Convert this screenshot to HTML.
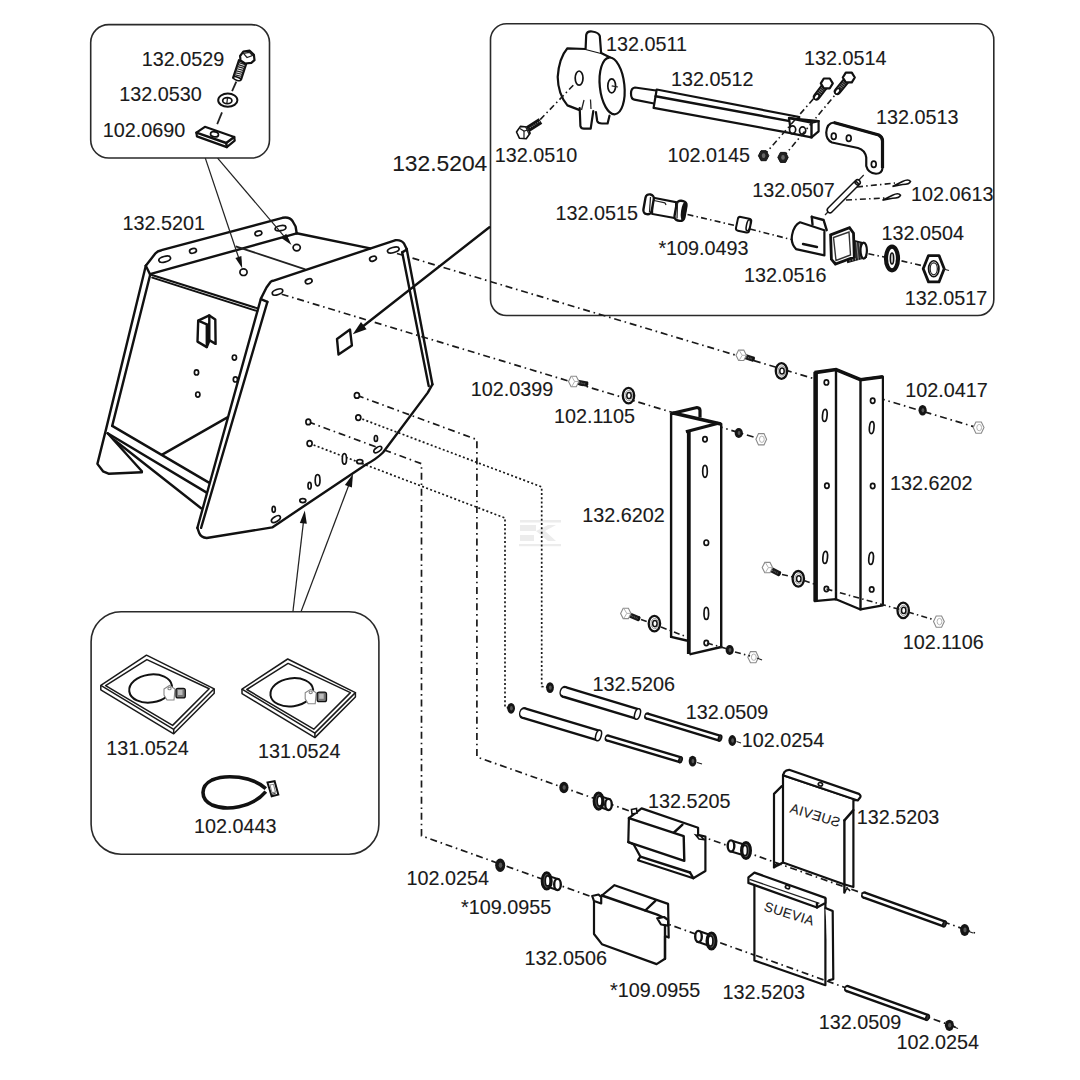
<!DOCTYPE html><html><head><meta charset="utf-8"><style>html,body{margin:0;padding:0;background:#fff;width:1080px;height:1080px;overflow:hidden}svg{display:block}</style></head><body><svg width="1080" height="1080" viewBox="0 0 1080 1080">
<style>
.k{fill:none;stroke:#111;stroke-width:2.4;stroke-linejoin:round;stroke-linecap:round}
.k2l{fill:none;stroke:#111;stroke-width:2.0;stroke-linecap:round}
.kw3{fill:#fff;stroke:#111;stroke-width:2.8;stroke-linejoin:round}
.wf{fill:#fff;stroke:none}
.kw{fill:#fff;stroke:#111;stroke-width:2.2;stroke-linejoin:round;stroke-linecap:round}
.k2{fill:#fff;stroke:#111;stroke-width:1.6}
.t{fill:none;stroke:#222;stroke-width:1.25}
.t2{fill:none;stroke:#222;stroke-width:1.8}
.dd2{fill:none;stroke:#1a1a1a;stroke-width:1.6;stroke-dasharray:6 3.2 1.5 3.2}
.lh{fill:#fff;stroke:#8a8a8a;stroke-width:1.1}
.tr{fill:none;stroke:#1a1a1a;stroke-width:1.5;stroke-linejoin:round}
.cn{fill:#fff;stroke:#888;stroke-width:1.1}
.cn2{fill:#fff;stroke:#111;stroke-width:2}
.tw{fill:none;stroke:#999;stroke-width:0.8}
.kw2{fill:#fff;stroke:#111;stroke-width:1.6;stroke-linejoin:round}
.bh2{fill:#fff;stroke:#222;stroke-width:1.4}
.bx{fill:none;stroke:#2a2a2a;stroke-width:1.6}
.h{fill:#fff;stroke:#111;stroke-width:1.7}
.fk{fill:#111;stroke:none}
.dd{fill:none;stroke:#1a1a1a;stroke-width:1.7;stroke-dasharray:7 3.8 1.6 3.8}
.ddl{fill:none;stroke:#1a1a1a;stroke-width:1.7;stroke-dasharray:7 3.8 1.6 3.8}
.dt{fill:none;stroke:#1a1a1a;stroke-width:1.7;stroke-dasharray:2 2.3}
.nutd{fill:#222;stroke:#111;stroke-width:1}
.nuti{fill:#666;stroke:none}
.nutl{fill:#fff;stroke:#999;stroke-width:1.1}
.bh{fill:#fff;stroke:#888;stroke-width:1.2}
.wsh{fill:#fff;stroke:#111}
.lbl{font-family:"Liberation Sans",sans-serif;fill:#1a1a1a;stroke:#1a1a1a;stroke-width:0.12}
</style>
<rect width="1080" height="1080" fill="#fff"/>
<rect class="bx" x="90.7" y="24.6" width="178.8" height="133.4" rx="18"/>
<rect class="bx" x="490.5" y="23.8" width="503.3" height="291.7" rx="16"/>
<rect class="bx" x="91.1" y="611.7" width="287.8" height="242.5" rx="30"/>
<g fill="#ececec"><rect x="520" y="520" width="41" height="2.5"/><rect x="520" y="525" width="16" height="6"/><rect x="520" y="535" width="14" height="6"/><rect x="519" y="544" width="42" height="2.2"/><path d="M536,531 L548,525 L556,525 L545,531 L556,541 L548,541 Z"/></g>
<line class="dd" x1="397" y1="253.5" x2="980" y2="428.5"/>
<line class="dd" x1="281.7" y1="294.2" x2="765" y2="440.5"/>
<polyline class="ddl" points="356.9,395.4 476.9,439.6 476.9,757.0 975.0,933.0"/>
<polyline class="dt" points="358.3,417.6 541.7,486.9 541.7,686.5 550.0,687.5"/>
<polyline class="ddl" points="308.3,421.9 421.5,463.7 421.5,835.8 958.0,1028.0"/>
<polyline class="dt" points="309.6,443.5 505.0,518.0 505.0,707.0 511.0,708.3"/>
<path class="k" d="M145.8,265.8 L155.3,253.5 Q157.5,251 161.5,250.2 L282.5,217.8 Q289.5,216.5 292.5,221 L295.6,226.5 L296.7,233.3"/>
<line class="k" x1="150" y1="274.2" x2="296.7" y2="233.3"/>
<line class="k" x1="145.8" y1="265.8" x2="150" y2="274.2"/>
<line class="k" x1="296.7" y1="233.3" x2="370.2" y2="248.4"/>
<line class="t2" x1="235.7" y1="246.3" x2="305.3" y2="269.3"/>
<path class="k" d="M197.4,527.8 L260.9,298.6 L266.5,287.5 L270.5,282 Q271.5,281 273,280.8 L395,240.3 Q401,239.5 404,243.5 L406.7,249"/>
<line class="k" x1="406.7" y1="249" x2="432.4" y2="384.3"/>
<line class="k" x1="402.2" y1="252.4" x2="428.7" y2="386.1"/>
<line class="k" x1="402.2" y1="252.4" x2="406.5" y2="249.8"/>
<path class="k" d="M432.4,384.3 L427.8,392.6 L383,452.5 Q376.5,459 366,464.5 L272.2,527.4 L206.7,538 Q201,537.5 199.3,533.3 L197.4,527.8"/>
<line class="k" x1="267.4" y1="301.9" x2="201.1" y2="527.8"/>
<polyline class="k" points="260.9,299.1 267.4,301.9"/>
<polyline class="k" points="145.8,265.8 105.7,430.6 97.4,463.9 103.0,471.3 108.5,473.7 141.9,472.2"/>
<line class="k" x1="150.2" y1="274.8" x2="112.2" y2="425.9"/>
<line class="k2l" x1="151.1" y1="274.8" x2="257.7" y2="308.4"/>
<line class="k2l" x1="152.3" y1="277.6" x2="257.3" y2="311.1"/>
<line class="k" x1="112.2" y1="425.9" x2="208.5" y2="482.4"/>
<line class="k" x1="107.6" y1="433.3" x2="206.7" y2="492.6"/>
<line class="k" x1="114" y1="439.8" x2="201.1" y2="508.3"/>
<line class="k" x1="107.6" y1="433.3" x2="141.9" y2="471.3"/>
<line class="k" x1="162.2" y1="454.6" x2="227" y2="417.6"/>
<polygon class="fk" points="206.8,324.4 209.3,321.5 209.3,340.2 206.8,344.0"/>
<path class="k" d="M198.2,320.7 L209.3,315.4 L215.3,319.4 L215.6,343.9 L209.5,340.2 L206.8,347.1 L197.5,341.6 Z"/>
<polyline class="k" points="198.2,320.7 206.8,324.4 206.8,347.1"/>
<line class="k" x1="209.3" y1="315.4" x2="209.3" y2="340.2"/>
<ellipse class="h" cx="164.7" cy="259.2" rx="6" ry="2.8" transform="rotate(-15 164.7 259.2)"/>
<ellipse class="h" cx="193" cy="250.8" rx="3.5" ry="2.3" transform="rotate(-15 193 250.8)"/>
<ellipse class="h" cx="258.4" cy="233.3" rx="3.5" ry="2.3" transform="rotate(-15 258.4 233.3)"/>
<ellipse class="h" cx="280.5" cy="228.2" rx="5.5" ry="2.5" transform="rotate(-10 280.5 228.2)"/>
<ellipse class="h" cx="243.5" cy="272.2" rx="3.6" ry="3.3"/>
<ellipse class="h" cx="296.7" cy="247.6" rx="3.6" ry="3.3"/>
<ellipse class="h" cx="277.5" cy="292" rx="5.5" ry="2.6" transform="rotate(-20 277.5 292)"/>
<ellipse class="h" cx="308.7" cy="281.3" rx="3.5" ry="2.3" transform="rotate(-20 308.7 281.3)"/>
<ellipse class="h" cx="373" cy="258.7" rx="3.5" ry="2.3" transform="rotate(-20 373 258.7)"/>
<ellipse class="h" cx="393.3" cy="250" rx="6" ry="2.6" transform="rotate(-15 393.3 250)"/>
<ellipse class="h" cx="234.4" cy="357.6" rx="2.1" ry="2.6"/>
<ellipse class="h" cx="196.5" cy="372.4" rx="2.1" ry="2.6"/>
<ellipse class="h" cx="235.4" cy="379.4" rx="2.1" ry="2.6"/>
<ellipse class="h" cx="197.8" cy="394.6" rx="2.1" ry="2.6"/>
<ellipse class="h" cx="356.9" cy="395.4" rx="2.5" ry="2.8"/>
<ellipse class="h" cx="358.3" cy="417.6" rx="2.5" ry="2.8"/>
<ellipse class="h" cx="309.6" cy="443.5" rx="2.5" ry="2.8"/>
<ellipse class="h" cx="308.3" cy="421.9" rx="2.4" ry="2.8"/>
<ellipse class="h" cx="375.9" cy="438.5" rx="1.6" ry="3"/>
<ellipse class="h" cx="377.8" cy="449.6" rx="4.5" ry="2.2" transform="rotate(-35 377.8 449.6)"/>
<ellipse class="h" cx="344.4" cy="458.9" rx="2.1" ry="5.2"/>
<ellipse class="h" cx="359.8" cy="461.7" rx="3" ry="2"/>
<ellipse class="h" cx="317.6" cy="480.2" rx="2.4" ry="5.6"/>
<ellipse class="h" cx="309.6" cy="485.7" rx="1.6" ry="3.3"/>
<ellipse class="h" cx="302.8" cy="500.6" rx="3" ry="2"/>
<ellipse class="h" cx="273.7" cy="509.3" rx="1.6" ry="3"/>
<ellipse class="h" cx="275.9" cy="519.1" rx="5" ry="2.5" transform="rotate(-32 275.9 519.1)"/>
<polygon class="k" points="337.0,338.9 350.0,329.6 351.9,345.4 338.5,354.6"/>
<line class="t" x1="205.3" y1="158.1" x2="238.70729982511662" y2="257.86922603598515"/>
<polygon class="fk" points="242.2,268.3 235.4,257.9 241.4,255.9"/>
<line class="t" x1="217.6" y1="158.1" x2="284.37390820663006" y2="236.62033319561777"/>
<polygon class="fk" points="291.5,245.0 281.3,237.9 286.2,233.8"/>
<line class="t" x1="292.9" y1="611.7" x2="303.39858831364404" y2="522.4178876184224"/>
<polygon class="fk" points="304.8,510.5 306.8,523.8 299.8,523.0"/>
<line class="t" x1="301" y1="611.7" x2="348.76062010018484" y2="485.2262040808567"/>
<polygon class="fk" points="353.0,474.0 351.9,487.5 344.9,484.9"/>
<line class="k" x1="489.4" y1="227.2" x2="363.03044917249076" y2="326.2789084452873"/>
<polygon class="fk" points="352.8,334.3 361.0,322.1 366.6,329.2"/>
<text class="lbl" x="141.7" y="66" font-size="19.8">132.0529</text>
<text class="lbl" x="119.3" y="101" font-size="19.8">132.0530</text>
<text class="lbl" x="102.8" y="137.4" font-size="19.8">102.0690</text>
<text class="lbl" x="122.4" y="230" font-size="19.8">132.5201</text>
<text class="lbl" x="606.0" y="51.25" font-size="19.8">132.0511</text>
<text class="lbl" x="671.1" y="85.9" font-size="19.8">132.0512</text>
<text class="lbl" x="494.7" y="162" font-size="19.8">132.0510</text>
<text class="lbl" x="667.4" y="161.9" font-size="19.8">102.0145</text>
<text class="lbl" x="804.0" y="65" font-size="19.8">132.0514</text>
<text class="lbl" x="876.0" y="123.75" font-size="19.8">132.0513</text>
<text class="lbl" x="752.2" y="197" font-size="19.8">132.0507</text>
<text class="lbl" x="911.0" y="200.75" font-size="19.8">102.0613</text>
<text class="lbl" x="555.5" y="220" font-size="19.8">132.0515</text>
<text class="lbl" x="658.4" y="255" font-size="19.8">*109.0493</text>
<text class="lbl" x="881.5" y="239.5" font-size="19.8">132.0504</text>
<text class="lbl" x="744.0" y="282" font-size="19.8">132.0516</text>
<text class="lbl" x="904.7" y="304.5" font-size="19.8">132.0517</text>
<text class="lbl" x="470.7" y="395.6" font-size="19.8">102.0399</text>
<text class="lbl" x="554.0" y="423.25" font-size="19.8">102.1105</text>
<text class="lbl" x="905.2" y="396.6" font-size="19.8">102.0417</text>
<text class="lbl" x="890.1" y="489.7" font-size="19.8">132.6202</text>
<text class="lbl" x="582.2" y="521.8" font-size="19.8">132.6202</text>
<text class="lbl" x="902.8" y="648.7" font-size="19.8">102.1106</text>
<text class="lbl" x="592.5" y="690.7" font-size="19.8">132.5206</text>
<text class="lbl" x="685.8" y="719" font-size="19.8">132.0509</text>
<text class="lbl" x="741.8" y="747.3" font-size="19.8">102.0254</text>
<text class="lbl" x="648.1" y="807.9" font-size="19.8">132.5205</text>
<text class="lbl" x="856.8" y="824.4" font-size="19.8">132.5203</text>
<text class="lbl" x="406.5" y="884.7" font-size="19.8">102.0254</text>
<text class="lbl" x="461.1" y="914" font-size="19.8">*109.0955</text>
<text class="lbl" x="524.5" y="965" font-size="19.8">132.0506</text>
<text class="lbl" x="610.0" y="997.4" font-size="19.8">*109.0955</text>
<text class="lbl" x="722.5" y="999.4" font-size="19.8">132.5203</text>
<text class="lbl" x="818.8" y="1029.4" font-size="19.8">132.0509</text>
<text class="lbl" x="896.5" y="1048.9" font-size="19.8">102.0254</text>
<text class="lbl" x="106.3" y="754.7" font-size="19.8">131.0524</text>
<text class="lbl" x="257.9" y="758.3" font-size="19.8">131.0524</text>
<text class="lbl" x="194.1" y="832.8" font-size="19.8">102.0443</text>
<text class="lbl" x="392.2" y="171.1" font-size="22.8">132.5204</text>
<polygon class="kw" points="239.0,60.2 246.5,62.9 241.1,79.4 233.1,77.8"/>
<line class="t" x1="238.3" y1="62.3" x2="245.9" y2="64.8"/>
<line class="t" x1="237.6" y1="64.3" x2="245.2" y2="66.8"/>
<line class="t" x1="236.9" y1="66.4" x2="244.6" y2="68.7"/>
<line class="t" x1="236.2" y1="68.5" x2="244.0" y2="70.7"/>
<line class="t" x1="235.5" y1="70.6" x2="243.3" y2="72.6"/>
<line class="t" x1="234.8" y1="72.6" x2="242.7" y2="74.5"/>
<line class="t" x1="234.1" y1="74.7" x2="242.1" y2="76.5"/>
<ellipse class="k2" cx="237.1" cy="78.7" rx="3.9" ry="1.6" transform="rotate(20 237.1 78.7)"/>
<polygon class="kw" points="240.1,56.0 243.3,51.7 249.7,50.7 253.9,54.9 254.5,60.2 251.3,62.9 245.0,63.5 240.5,60.5"/>
<polygon class="t" points="243.5,53.5 249.5,52.3 252.5,55.5 247.0,57.5"/>
<line class="t2" x1="236.3" y1="81.6" x2="232.1" y2="91.1"/>
<line class="t2" x1="222" y1="112.4" x2="217.2" y2="124.2"/>
<ellipse cx="227.8" cy="100.2" rx="9.6" ry="6.6" fill="#fff" stroke="#111" stroke-width="2"/>
<ellipse class="h" cx="227.3" cy="100.7" rx="4.6" ry="3"/>
<line class="t" x1="227.5" y1="97.8" x2="226.8" y2="103.5"/>
<polygon class="kw" points="196.4,132.7 204.9,126.8 234.2,137.0 234.7,140.7 226.8,147.1 196.9,136.4"/>
<polyline class="k" points="196.4,132.7 226.2,143.0 234.2,137.0"/>
<line class="k" x1="226.2" y1="143" x2="226.8" y2="147.1"/>
<ellipse class="h" cx="214.5" cy="134.3" rx="4" ry="2.5" transform="rotate(10 214.5 134.3)"/>
<path class="kw" d="M610.2,57.4 L601.1,52.9 L585.6,49 L567.4,48.3 Q559,58 557.7,76.9 Q558,94 567.4,105.4 L579.1,109.9"/>
<path class="kw" d="M585.6,49 L586.2,35 Q587,31 592,31.5 Q599,32.5 599.8,36 L601.1,52.9"/>
<path class="kw" d="M579.7,108 L580.4,126 Q581,128.7 584,128.7 L590.7,128.7 L593.3,111"/>
<path class="kw" d="M595.9,112 L597.2,121 Q598,123.5 602,123.5 L607.6,123.5 L609.5,115.7"/>
<line class="t" x1="584" y1="100" x2="581.5" y2="110"/>
<line class="t" x1="590.5" y1="99.5" x2="591" y2="109"/>
<ellipse class="kw" cx="612.1" cy="85.9" rx="12.3" ry="28.5" transform="rotate(-6 612.1 85.9)"/>
<ellipse class="h" cx="579.1" cy="78.1" rx="3.9" ry="7.1"/>
<ellipse class="h" cx="611.7" cy="85.9" rx="3.9" ry="7"/>
<line class="t" x1="611.7" y1="85.9" x2="618" y2="87"/>
<line class="dd2" x1="540.2" y1="119.6" x2="573.9" y2="84.6"/>
<line x1="528" y1="129" x2="540.5" y2="121" stroke="#111" stroke-width="6.5"/>
<line x1="528" y1="129" x2="540.5" y2="121" stroke="#888" stroke-width="1.3" stroke-dasharray="1 1.2"/>
<polygon class="kw2" points="530.1,133.2 526.2,138.8 519.4,138.2 516.5,132.0 520.4,126.4 527.2,127.0"/>
<polyline class="t" points="519.0,128.0 524.0,131.0 529.5,129.5"/>
<line class="t" x1="524" y1="131" x2="524" y2="138.5"/>
<line class="t" x1="525.5" y1="126.5" x2="529" y2="134"/>
<path class="kw" d="M656,90.5 L635,87.5 Q631,88 631,93.5 Q631,99 634.3,99.7 L654,103.5"/>
<polygon class="kw" points="656.7,89.5 799.3,117.0 792.1,133.3 653.6,107.9"/>
<line class="k" x1="655.6" y1="96.3" x2="795.2" y2="122.1"/>
<polygon class="kw" points="789.0,118.0 818.6,121.1 818.6,131.3 811.5,137.4 791.1,133.3"/>
<line class="k" x1="789" y1="118" x2="811.5" y2="122.5"/>
<line class="k" x1="811.5" y1="122.5" x2="811.5" y2="137.4"/>
<line class="k" x1="811.5" y1="122.5" x2="818.6" y2="121.1"/>
<ellipse class="h" cx="792.6" cy="129.6" rx="3.1" ry="3.7"/>
<ellipse class="h" cx="802.6" cy="130.6" rx="3.1" ry="3.7"/>
<line class="dd2" x1="763.6" y1="155.7" x2="815" y2="97"/>
<line class="dd2" x1="783" y1="157.4" x2="837.5" y2="92"/>
<line x1="826.8" y1="83.4" x2="816.6" y2="96.7" stroke="#111" stroke-width="7.5" stroke-linecap="round"/>
<line x1="826.8" y1="83.4" x2="816.6" y2="96.7" stroke="#777" stroke-width="4" stroke-dasharray="1 1"/>
<polygon class="kw" points="832.8,83.4 829.8,88.3 823.8,88.3 820.8,83.4 823.8,78.5 829.8,78.5"/>
<ellipse class="k2" cx="816.6" cy="96.7" rx="3" ry="2" transform="rotate(-50 816.6 96.7)"/>
<line x1="848.75" y1="77.5" x2="837.5" y2="91.25" stroke="#111" stroke-width="7.5" stroke-linecap="round"/>
<line x1="848.75" y1="77.5" x2="837.5" y2="91.25" stroke="#777" stroke-width="4" stroke-dasharray="1 1"/>
<polygon class="kw" points="854.8,77.5 851.8,82.4 845.8,82.4 842.8,77.5 845.8,72.6 851.8,72.6"/>
<ellipse class="k2" cx="837.5" cy="91.25" rx="3" ry="2" transform="rotate(-50 837.5 91.25)"/>
<polygon class="nutd" points="768.8,155.7 766.2,160.7 761.0,160.7 758.4,155.7 761.0,150.7 766.2,150.7"/>
<ellipse class="nuti" cx="763.6" cy="155.7" rx="1.8" ry="2.4"/>
<polygon class="nutd" points="788.2,157.4 785.6,162.4 780.4,162.4 777.8,157.4 780.4,152.4 785.6,152.4"/>
<ellipse class="nuti" cx="783" cy="157.4" rx="1.8" ry="2.4"/>
<path class="kw" d="M833.75,122.5 L878.75,135 Q882.5,137 882.5,141 L882.5,168 Q882,173.75 876,173.75 Q868,173 866.25,166 L866.25,157.5 Q865,150 858,148 L832,142.5 Q826.25,140 826.25,132.5 Q827,123 833.75,122.5 Z"/>
<path d="M833.75,122.5 L878.75,135 Q882.5,137 882.5,141 L882.5,168" fill="none" stroke="#111" stroke-width="3.2"/>
<ellipse class="h" cx="833.75" cy="136.25" rx="2.4" ry="3.2"/>
<ellipse class="h" cx="848.75" cy="138.25" rx="2.4" ry="3.2"/>
<ellipse class="h" cx="873.75" cy="164.25" rx="2.4" ry="3.2"/>
<line class="t" x1="863.75" y1="175" x2="825" y2="215"/>
<line x1="830" y1="210" x2="857.5" y2="182.5" stroke="#111" stroke-width="6.9" stroke-linecap="round"/>
<line x1="830" y1="210" x2="857.5" y2="182.5" stroke="#fff" stroke-width="3.9" stroke-linecap="round"/>
<ellipse class="k2" cx="856.7" cy="183.3" rx="1.0" ry="2.2" transform="rotate(-45.0 856.7 183.3)"/>
<line class="dd2" x1="857" y1="187" x2="895" y2="183"/>
<line class="dd2" x1="846" y1="200" x2="885" y2="198"/>
<path class="k2" d="M892.5,186.5 L902.5,181.5 Q908.5,178.5 910.5,181.5 Q909.5,184.5 902.5,184.5 Z"/>
<path class="k2" d="M882.5,200.25 L892.5,195.25 Q898.5,192.25 900.5,195.25 Q899.5,198.25 892.5,198.25 Z"/>
<path d="M652.2,197.6 L676,202.2 L676,218.2 L652.2,214 Z" fill="#fff" stroke="#111" stroke-width="2"/>
<line class="t" x1="654" y1="200.5" x2="665" y2="202.8"/>
<line class="t" x1="665" y1="202.8" x2="666" y2="205"/>
<rect x="-4.2" y="-10" width="8.4" height="20" rx="4" transform="translate(648.6,204.3) rotate(10)" fill="#fff" stroke="#111" stroke-width="2.4"/>
<line class="t" x1="650.5" y1="197" x2="649.5" y2="212"/>
<rect x="-5" y="-10" width="10" height="20" rx="4" transform="translate(680.5,210.8) rotate(10)" fill="#fff" stroke="#111" stroke-width="2.4"/>
<ellipse cx="683.6" cy="211.3" rx="2.6" ry="9.3" transform="rotate(8 683.6 211.3)" fill="#111"/>
<line class="t" x1="677.5" y1="202.5" x2="677" y2="218.5"/>
<line class="dd2" x1="687.5" y1="214.5" x2="737" y2="226"/>
<rect x="-6.8" y="-7" width="13.6" height="14" rx="2.5" transform="translate(743.6,224.7) rotate(12)" fill="#fff" stroke="#111" stroke-width="2"/>
<ellipse cx="748.3" cy="225.2" rx="1.8" ry="5.6" transform="rotate(12 748.3 225.2)" fill="#fff" stroke="#111" stroke-width="1.6"/>
<line class="dd2" x1="750" y1="229" x2="793" y2="240"/>
<path class="kw" d="M800,222.3 L824.4,230.2 L824.4,255.4 L796,249.1 Q790.5,243 792.1,234.9 Q794,225 800,222.3 Z"/>
<path class="k" d="M811.8,216.8 L823.6,220 L826.7,230.2"/>
<line class="k" x1="811.8" y1="216.8" x2="812.5" y2="224.5"/>
<line class="k" x1="803" y1="244" x2="817" y2="247"/>
<path d="M845,238.5 L863,243 L866,257 L848,262 Z" fill="#2a2a2a" stroke="#111" stroke-width="1.8"/>
<line class="tw" x1="848.0" y1="240.0" x2="850.0" y2="261.5"/>
<line class="tw" x1="850.8" y1="240.7" x2="852.8" y2="261.0"/>
<line class="tw" x1="853.6" y1="241.4" x2="855.6" y2="260.5"/>
<line class="tw" x1="856.4" y1="242.1" x2="858.4" y2="260.0"/>
<line class="tw" x1="859.2" y1="242.8" x2="861.2" y2="259.5"/>
<line class="tw" x1="862.0" y1="243.5" x2="864.0" y2="259.0"/>
<path d="M830.6,234.9 L849.5,227.8 L853.5,233.3 L854.3,257 L835.4,264 L831.4,259.3 Z" fill="#fff" stroke="#111" stroke-width="2.8"/>
<path d="M833.5,237.5 L849,232 L850.5,255 L836,260.5 Z" fill="none" stroke="#333" stroke-width="1.4"/>
<ellipse class="kw" cx="863.7" cy="250.6" rx="3.2" ry="8"/>
<line class="dd2" x1="868.4" y1="253.8" x2="884.2" y2="257"/>
<line class="dd2" x1="901.5" y1="260.9" x2="922" y2="265.6"/>
<ellipse cx="892" cy="258.5" rx="6" ry="11.8" fill="#fff" stroke="#111" stroke-width="4.2"/>
<ellipse class="h" cx="892" cy="258.5" rx="1.6" ry="5.5"/>
<polygon class="kw3" points="944.2,268.8 939.0,281.9 928.5,281.9 923.2,268.8 928.5,255.6 939.0,255.6"/>
<ellipse class="h" cx="933.75" cy="268.75" rx="5.2" ry="8"/>
<ellipse class="t" cx="933.75" cy="268.75" rx="3.6" ry="6"/>
<line class="t" x1="943.5" y1="269" x2="949" y2="270.5"/>
<polygon class="wf" points="671.1,413.6 696.9,407.5 700.0,410.0 700.0,417.5 721.2,424.0 721.2,647.0 691.0,654.2 686.9,654.2 686.9,640.5 671.1,636.9"/>
<line class="k" x1="671.1" y1="413.6" x2="671.1" y2="636.9"/>
<line class="k" x1="721.2" y1="424" x2="721.2" y2="647"/>
<path d="M671.3,413.6 L696.9,407.5 Q700,407.8 700,410.5 L700,417.5" fill="none" stroke="#111" stroke-width="3.2"/>
<path d="M673,413 L720.9,424" fill="none" stroke="#111" stroke-width="3.4"/>
<path d="M685.9,431.8 L718.3,423.3" fill="none" stroke="#111" stroke-width="3.2"/>
<line x1="688.8" y1="431.5" x2="688.8" y2="654" stroke="#111" stroke-width="3.8"/>
<line class="k" x1="671.1" y1="636.9" x2="686.5" y2="640.5"/>
<line class="k" x1="690.5" y1="654.2" x2="721.2" y2="647"/>
<ellipse class="h" cx="705" cy="439.3" rx="2.2" ry="2.6"/>
<ellipse class="h" cx="705" cy="471.3" rx="2.3" ry="6"/>
<ellipse class="h" cx="706.3" cy="542.7" rx="2.3" ry="2.7"/>
<ellipse class="h" cx="706.3" cy="613.4" rx="2.3" ry="6"/>
<ellipse class="h" cx="706.3" cy="643" rx="2.2" ry="2.6"/>
<polygon class="kw" points="814.6,372.6 836.0,369.5 860.5,379.7 882.9,376.7 882.9,605.3 860.5,609.4 836.0,599.2 814.6,601.2"/>
<path d="M814.6,372.6 L836,369.5 L860.5,379.7 L882.9,376.7" fill="none" stroke="#111" stroke-width="3.6"/>
<line x1="815.8" y1="372" x2="815.8" y2="601" stroke="#111" stroke-width="4.2"/>
<line class="k" x1="836" y1="369.5" x2="836" y2="599.2"/>
<line class="k" x1="860.5" y1="379.7" x2="860.5" y2="609.4"/>
<ellipse class="h" cx="826.4" cy="382.4" rx="2.2" ry="2.6"/>
<ellipse class="h" cx="872.7" cy="400.7" rx="2.2" ry="2.6"/>
<ellipse class="h" cx="826.9" cy="485.7" rx="2.2" ry="2.6"/>
<ellipse class="h" cx="872.7" cy="486" rx="2.2" ry="2.6"/>
<ellipse class="h" cx="826.4" cy="589" rx="2.2" ry="2.6"/>
<ellipse class="h" cx="871.7" cy="589.4" rx="2.2" ry="2.6"/>
<ellipse class="h" cx="824.8" cy="415.4" rx="2.3" ry="6" transform="rotate(5 824.8 415.4)"/>
<ellipse class="h" cx="871.7" cy="427.6" rx="2.3" ry="6" transform="rotate(5 871.7 427.6)"/>
<ellipse class="h" cx="825.2" cy="557.4" rx="2.3" ry="6" transform="rotate(5 825.2 557.4)"/>
<ellipse class="h" cx="871.1" cy="558.4" rx="2.3" ry="6" transform="rotate(5 871.1 558.4)"/>
<line x1="573.7" y1="381.5" x2="587" y2="384.1" stroke="#1a1a1a" stroke-width="5.2"/>
<line x1="573.7" y1="381.5" x2="586.5" y2="384.1" stroke="#666" stroke-width="1.2" stroke-dasharray="0.9 0.9"/>
<ellipse cx="587" cy="384.1" rx="1.3" ry="2.6" transform="rotate(11 587 384.1)" fill="#111"/>
<polygon class="lh" points="578.9,381.5 576.3,386.7 571.1,386.7 568.5,381.5 571.1,376.3 576.3,376.3"/>
<path d="M571.7,376.5 L574.7,381.5 L571.7,386.5 M574.7,381.5 L578.7,381.5" fill="none" stroke="#aaa" stroke-width="0.9"/>
<line x1="741.2" y1="355.3" x2="753.5" y2="359.2" stroke="#1a1a1a" stroke-width="5.2"/>
<line x1="741.2" y1="355.3" x2="753.0" y2="359.2" stroke="#666" stroke-width="1.2" stroke-dasharray="0.9 0.9"/>
<ellipse cx="753.5" cy="359.2" rx="1.3" ry="2.6" transform="rotate(18 753.5 359.2)" fill="#111"/>
<polygon class="lh" points="746.4,355.3 743.8,360.5 738.6,360.5 736.0,355.3 738.6,350.1 743.8,350.1"/>
<path d="M739.2,350.3 L742.2,355.3 L739.2,360.3 M742.2,355.3 L746.2,355.3" fill="none" stroke="#aaa" stroke-width="0.9"/>
<line x1="625.8" y1="613.4" x2="639" y2="618.8" stroke="#1a1a1a" stroke-width="5.2"/>
<line x1="625.8" y1="613.4" x2="638.5" y2="618.8" stroke="#666" stroke-width="1.2" stroke-dasharray="0.9 0.9"/>
<ellipse cx="639" cy="618.8" rx="1.3" ry="2.6" transform="rotate(22 639 618.8)" fill="#111"/>
<polygon class="lh" points="631.0,613.4 628.4,618.6 623.2,618.6 620.6,613.4 623.2,608.2 628.4,608.2"/>
<path d="M623.8,608.4 L626.8,613.4 L623.8,618.4 M626.8,613.4 L630.8,613.4" fill="none" stroke="#aaa" stroke-width="0.9"/>
<line x1="767.4" y1="567.6" x2="779.5" y2="573.9" stroke="#1a1a1a" stroke-width="5.2"/>
<line x1="767.4" y1="567.6" x2="779.0" y2="573.9" stroke="#666" stroke-width="1.2" stroke-dasharray="0.9 0.9"/>
<ellipse cx="779.5" cy="573.9" rx="1.3" ry="2.6" transform="rotate(28 779.5 573.9)" fill="#111"/>
<polygon class="lh" points="772.6,567.6 770.0,572.8 764.8,572.8 762.2,567.6 764.8,562.4 770.0,562.4"/>
<path d="M765.4,562.6 L768.4,567.6 L765.4,572.6 M768.4,567.6 L772.4,567.6" fill="none" stroke="#aaa" stroke-width="0.9"/>
<ellipse cx="628.5" cy="395.6" rx="5.7" ry="7.8" fill="#fff" stroke="#111" stroke-width="2.3"/>
<ellipse cx="628.8" cy="395.6" rx="3.7" ry="5.1" fill="none" stroke="#888" stroke-width="0.9"/>
<ellipse cx="629.0" cy="395.6" rx="2.2" ry="3.1" fill="#fff" stroke="#111" stroke-width="1.5"/>
<ellipse cx="781.5" cy="371" rx="5.7" ry="7.8" fill="#fff" stroke="#111" stroke-width="2.3"/>
<ellipse cx="781.8" cy="371" rx="3.7" ry="5.1" fill="none" stroke="#888" stroke-width="0.9"/>
<ellipse cx="782.0" cy="371" rx="2.2" ry="3.1" fill="#fff" stroke="#111" stroke-width="1.5"/>
<ellipse cx="654.4" cy="623.6" rx="5.7" ry="7.8" fill="#fff" stroke="#111" stroke-width="2.3"/>
<ellipse cx="654.6999999999999" cy="623.6" rx="3.7" ry="5.1" fill="none" stroke="#888" stroke-width="0.9"/>
<ellipse cx="654.9" cy="623.6" rx="2.2" ry="3.1" fill="#fff" stroke="#111" stroke-width="1.5"/>
<ellipse cx="798.3" cy="578.8" rx="5.7" ry="7.8" fill="#fff" stroke="#111" stroke-width="2.3"/>
<ellipse cx="798.5999999999999" cy="578.8" rx="3.7" ry="5.1" fill="none" stroke="#888" stroke-width="0.9"/>
<ellipse cx="798.8" cy="578.8" rx="2.2" ry="3.1" fill="#fff" stroke="#111" stroke-width="1.5"/>
<ellipse cx="903.2" cy="610.4" rx="5.7" ry="7.8" fill="#fff" stroke="#111" stroke-width="2.3"/>
<ellipse cx="903.5" cy="610.4" rx="3.7" ry="5.1" fill="none" stroke="#888" stroke-width="0.9"/>
<ellipse cx="903.7" cy="610.4" rx="2.2" ry="3.1" fill="#fff" stroke="#111" stroke-width="1.5"/>
<ellipse cx="738.75" cy="433" rx="4.1" ry="4.9" fill="#151515"/>
<ellipse cx="739.05" cy="433" rx="1.4" ry="2.0" fill="#555"/>
<ellipse cx="922.6" cy="410.3" rx="4.1" ry="5.3" fill="#151515"/>
<ellipse cx="922.9" cy="410.3" rx="1.4" ry="2.1" fill="#555"/>
<ellipse cx="729.7" cy="650" rx="4.1" ry="5.1" fill="#151515"/>
<ellipse cx="730.0" cy="650" rx="1.4" ry="2.0" fill="#555"/>
<polygon class="lh" points="766.6,439.2 764.0,444.9 758.5,444.9 755.9,439.2 758.5,433.6 764.0,433.6"/>
<ellipse cx="761.85" cy="439.25" rx="2.4" ry="3.2" fill="none" stroke="#aaa" stroke-width="0.9"/>
<polygon class="lh" points="984.0,427.6 981.3,433.2 975.9,433.2 973.2,427.6 975.9,422.0 981.3,422.0"/>
<ellipse cx="979.2" cy="427.6" rx="2.4" ry="3.2" fill="none" stroke="#aaa" stroke-width="0.9"/>
<polygon class="lh" points="758.6,657.2 755.9,662.8 750.5,662.8 747.8,657.2 750.5,651.6 755.9,651.6"/>
<ellipse cx="753.8000000000001" cy="657.2" rx="2.4" ry="3.2" fill="none" stroke="#aaa" stroke-width="0.9"/>
<polygon class="lh" points="944.3,621.6 941.6,627.2 936.2,627.2 933.5,621.6 936.2,616.0 941.6,616.0"/>
<ellipse cx="939.5" cy="621.6" rx="2.4" ry="3.2" fill="none" stroke="#aaa" stroke-width="0.9"/>
<line class="dd2" x1="707" y1="643" x2="726" y2="648.5"/>
<line class="dd2" x1="735" y1="652" x2="750" y2="656"/>
<line class="t" x1="757" y1="658" x2="762" y2="660"/>
<line class="dd2" x1="661" y1="627" x2="687" y2="637"/>
<line class="dd2" x1="641" y1="619.6" x2="649.5" y2="622.5"/>
<line class="dd2" x1="782" y1="574.5" x2="793" y2="577"/>
<line class="dd2" x1="804" y1="580.5" x2="814" y2="584"/>
<line class="dd2" x1="826.5" y1="589" x2="900" y2="609.5"/>
<line class="dd2" x1="908" y1="612" x2="933" y2="619.5"/>
<ellipse cx="564" cy="691.8" rx="4.4" ry="6.1" transform="rotate(16.8 564 691.8)" fill="#111"/>
<line x1="564" y1="691.8" x2="637.5" y2="714" stroke="#111" stroke-width="12.2"/>
<ellipse cx="564" cy="691.8" rx="3.1" ry="3.7" transform="rotate(16.8 564 691.8)" fill="#fff"/>
<line x1="564" y1="691.8" x2="637.5" y2="714" stroke="#fff" stroke-width="7.3999999999999995"/>
<ellipse cx="637.5" cy="714" rx="2.7" ry="5.4" transform="rotate(16.8 637.5 714)" fill="#fff" stroke="#111" stroke-width="1.5"/>
<ellipse cx="647" cy="716" rx="2.8" ry="3.7" transform="rotate(16.9 647 716)" fill="#111"/>
<line x1="647" y1="716" x2="720" y2="738.2" stroke="#111" stroke-width="7.4"/>
<ellipse cx="647" cy="716" rx="1.5" ry="1.3" transform="rotate(16.9 647 716)" fill="#fff"/>
<line x1="647" y1="716" x2="720" y2="738.2" stroke="#fff" stroke-width="2.5999999999999996"/>
<ellipse cx="720" cy="738.2" rx="1.6" ry="3.0" transform="rotate(16.9 720 738.2)" fill="#333" stroke="#111" stroke-width="1.5"/>
<ellipse cx="523.5" cy="713" rx="4.4" ry="6.1" transform="rotate(16.7 523.5 713)" fill="#111"/>
<line x1="523.5" y1="713" x2="598.5" y2="735.5" stroke="#111" stroke-width="12.2"/>
<ellipse cx="523.5" cy="713" rx="3.1" ry="3.7" transform="rotate(16.7 523.5 713)" fill="#fff"/>
<line x1="523.5" y1="713" x2="598.5" y2="735.5" stroke="#fff" stroke-width="7.3999999999999995"/>
<ellipse cx="598.5" cy="735.5" rx="2.7" ry="5.4" transform="rotate(16.7 598.5 735.5)" fill="#fff" stroke="#111" stroke-width="1.5"/>
<ellipse cx="607.5" cy="738" rx="2.8" ry="3.7" transform="rotate(16.6 607.5 738)" fill="#111"/>
<line x1="607.5" y1="738" x2="680.5" y2="759.8" stroke="#111" stroke-width="7.4"/>
<ellipse cx="607.5" cy="738" rx="1.5" ry="1.3" transform="rotate(16.6 607.5 738)" fill="#fff"/>
<line x1="607.5" y1="738" x2="680.5" y2="759.8" stroke="#fff" stroke-width="2.5999999999999996"/>
<ellipse cx="680.5" cy="759.8" rx="1.6" ry="3.0" transform="rotate(16.6 680.5 759.8)" fill="#333" stroke="#111" stroke-width="1.5"/>
<ellipse cx="864" cy="895" rx="2.8" ry="3.7" transform="rotate(19.8 864 895)" fill="#111"/>
<line x1="864" y1="895" x2="944.5" y2="924" stroke="#111" stroke-width="7.4"/>
<ellipse cx="864" cy="895" rx="1.5" ry="1.3" transform="rotate(19.8 864 895)" fill="#fff"/>
<line x1="864" y1="895" x2="944.5" y2="924" stroke="#fff" stroke-width="2.5999999999999996"/>
<ellipse cx="944.5" cy="924" rx="1.6" ry="3.0" transform="rotate(19.8 944.5 924)" fill="#333" stroke="#111" stroke-width="1.5"/>
<ellipse cx="847" cy="988.5" rx="2.8" ry="3.7" transform="rotate(19.8 847 988.5)" fill="#111"/>
<line x1="847" y1="988.5" x2="927.5" y2="1017.5" stroke="#111" stroke-width="7.4"/>
<ellipse cx="847" cy="988.5" rx="1.5" ry="1.3" transform="rotate(19.8 847 988.5)" fill="#fff"/>
<line x1="847" y1="988.5" x2="927.5" y2="1017.5" stroke="#fff" stroke-width="2.5999999999999996"/>
<ellipse cx="927.5" cy="1017.5" rx="1.6" ry="3.0" transform="rotate(19.8 927.5 1017.5)" fill="#333" stroke="#111" stroke-width="1.5"/>
<ellipse cx="550" cy="687.6" rx="3.9" ry="5.4" fill="#151515"/>
<ellipse cx="550.3" cy="687.6" rx="1.4" ry="2.2" fill="#555"/>
<ellipse cx="511.1" cy="708.3" rx="3.9" ry="5.4" fill="#151515"/>
<ellipse cx="511.40000000000003" cy="708.3" rx="1.4" ry="2.2" fill="#555"/>
<ellipse cx="732.3" cy="740.5" rx="3.9" ry="5.4" fill="#151515"/>
<ellipse cx="732.5999999999999" cy="740.5" rx="1.4" ry="2.2" fill="#555"/>
<ellipse cx="692.6" cy="761.1" rx="3.9" ry="5.4" fill="#151515"/>
<ellipse cx="692.9" cy="761.1" rx="1.4" ry="2.2" fill="#555"/>
<ellipse cx="563.9" cy="787.5" rx="4.6" ry="5.7" fill="#151515"/>
<ellipse cx="564.1999999999999" cy="787.5" rx="1.6" ry="2.3" fill="#555"/>
<ellipse cx="500.2" cy="865.3" rx="5" ry="6.8" fill="#151515"/>
<ellipse cx="500.5" cy="865.3" rx="1.8" ry="2.7" fill="#555"/>
<ellipse cx="964.7" cy="930" rx="4.6" ry="6" fill="#151515"/>
<ellipse cx="965.0" cy="930" rx="1.6" ry="2.4" fill="#555"/>
<ellipse cx="949.4" cy="1025.3" rx="4.5" ry="5.6" fill="#151515"/>
<ellipse cx="949.6999999999999" cy="1025.3" rx="1.6" ry="2.2" fill="#555"/>
<line class="t" x1="736.5" y1="741.5" x2="741" y2="743"/>
<line class="t" x1="697" y1="762.5" x2="702" y2="764"/>
<line class="t" x1="969" y1="931.5" x2="973" y2="933"/>
<line class="t" x1="954" y1="1027" x2="958" y2="1028.5"/>
<line x1="598.6" y1="801.1" x2="608.5" y2="804.5" stroke="#111" stroke-width="12.5"/>
<line x1="598.6" y1="801.1" x2="608.5" y2="804.5" stroke="#fff" stroke-width="8.5"/>
<ellipse cx="608.5" cy="804.5" rx="3.3" ry="5.6" fill="#fff" stroke="#111" stroke-width="2.4"/>
<ellipse cx="598.6" cy="801.1" rx="4.6" ry="8.2" fill="#555" stroke="#111" stroke-width="2.8"/>
<ellipse cx="599.6" cy="801.1" rx="2.4" ry="5" fill="#fff" stroke="#111" stroke-width="1.6"/>
<line x1="746" y1="850.5" x2="731" y2="846" stroke="#111" stroke-width="12.5"/>
<line x1="746" y1="850.5" x2="731" y2="846" stroke="#fff" stroke-width="8.5"/>
<ellipse cx="731" cy="846" rx="3.3" ry="5.6" fill="#fff" stroke="#111" stroke-width="2.4"/>
<ellipse cx="746" cy="850.5" rx="4.6" ry="8.2" fill="#555" stroke="#111" stroke-width="2.8"/>
<ellipse cx="745.0" cy="850.5" rx="2.4" ry="5" fill="#fff" stroke="#111" stroke-width="1.6"/>
<line x1="546.7" y1="880.9" x2="557.5" y2="884.5" stroke="#111" stroke-width="12.5"/>
<line x1="546.7" y1="880.9" x2="557.5" y2="884.5" stroke="#fff" stroke-width="8.5"/>
<ellipse cx="557.5" cy="884.5" rx="3.3" ry="5.6" fill="#fff" stroke="#111" stroke-width="2.4"/>
<ellipse cx="546.7" cy="880.9" rx="4.6" ry="8.2" fill="#555" stroke="#111" stroke-width="2.8"/>
<ellipse cx="547.7" cy="880.9" rx="2.4" ry="5" fill="#fff" stroke="#111" stroke-width="1.6"/>
<line x1="711.5" y1="941" x2="698.5" y2="936.5" stroke="#111" stroke-width="12.5"/>
<line x1="711.5" y1="941" x2="698.5" y2="936.5" stroke="#fff" stroke-width="8.5"/>
<ellipse cx="698.5" cy="936.5" rx="3.3" ry="5.6" fill="#fff" stroke="#111" stroke-width="2.4"/>
<ellipse cx="711.5" cy="941" rx="4.6" ry="8.2" fill="#555" stroke="#111" stroke-width="2.8"/>
<ellipse cx="710.5" cy="941" rx="2.4" ry="5" fill="#fff" stroke="#111" stroke-width="1.6"/>
<path class="kw" d="M628.9,818.1 L641.6,808.4 L698.1,827.7 L698.1,834.9 L705.4,836.5 L705.4,871 L693.3,878.2 L638,860.2 L640.4,856.6 L633.7,844.5 L628.3,842.1 Z"/>
<polyline class="k" points="628.9,818.1 683.7,836.1 684.3,860.8 628.3,842.1"/>
<line class="k" x1="674" y1="832.5" x2="682.5" y2="824.7"/>
<line class="k" x1="640.4" y1="856.6" x2="690" y2="872.5"/>
<line class="k" x1="690" y1="872.5" x2="693.3" y2="878.2"/>
<polygon class="k2" points="631.5,809.5 636.5,808.5 637.0,813.0 632.0,814.0"/>
<polygon class="k2" points="695.7,835.0 700.5,836.0 704.2,839.7 699.0,839.0"/>
<path class="kw" d="M594,899 L594,934 L601.9,944.2 L656.6,964.1 L665,958.7 L665,936 L668.7,937.6 L668.1,903.9 L614.5,885.2 L601.9,895.5 Z"/>
<polyline class="k" points="601.9,895.5 657.2,914.7 665.0,918.3"/>
<line class="k" x1="645.2" y1="910.5" x2="655.4" y2="900.9"/>
<polygon class="kw" points="592.2,896.0 598.5,894.5 601.2,897.0 601.2,903.5 594.0,901.0"/>
<polygon class="kw" points="657.2,918.3 664.0,917.0 668.1,920.0 668.1,925.6 661.0,924.5"/>
<line class="k" x1="665" y1="925.6" x2="665" y2="958.7"/>
<path class="kw" d="M774,867.3 L774,793.9 L781.8,786.1"/>
<path d="M783,775.2 L783,862.5 L843.2,884 L853.4,887 L853.4,800.5 L857,799.9 L783,775.2 Z" fill="#fff" stroke="#111" stroke-width="2.2" stroke-linejoin="round"/>
<path class="kw" d="M784.3,772.2 Q786,769.8 789.1,769.8 L858.9,793.9 Q861.5,796 860.1,797.5 L857.7,800.5 L783,775.2 Z"/>
<line class="k" x1="844.4" y1="820.4" x2="844.4" y2="892.6"/>
<line class="k" x1="844.4" y1="820.4" x2="853.4" y2="810.1"/>
<line class="k" x1="774" y1="867.3" x2="783" y2="862.5"/>
<ellipse class="k2" cx="820.4" cy="784.3" rx="2.2" ry="1.6" transform="rotate(20 820.4 784.3)"/>
<path d="M774.5,867 q2,-6 4.5,-1 M845,892 q2,-6 5,-1" fill="none" stroke="#111" stroke-width="1.6"/>
<text class="lbl" font-size="13.4" letter-spacing="0.5" transform="translate(838.6,827.2) rotate(17) scale(-1,1)" x="0" y="0">SUEVIA</text>
<path d="M754.4,884.7 L754.4,960.5 L825.4,985.2 L825.4,897.9" fill="#fff" stroke="#111" stroke-width="2.2" stroke-linejoin="round"/>
<path class="kw" d="M748.4,882.9 L748.4,877.4 L754.4,872.6 L825.4,897.9 L825.4,903 L817,907.5 L748.4,882.9 Z"/>
<line class="t" x1="749.6" y1="879.3" x2="819.4" y2="903.3"/>
<line class="k" x1="817" y1="907.5" x2="817" y2="903.5"/>
<path class="kw" d="M825.4,908.1 L832.7,911.1 L833.3,979.1 L829,980.3"/>
<ellipse class="k2" cx="787.5" cy="887.1" rx="2.2" ry="1.6" transform="rotate(20 787.5 887.1)"/>
<line class="dd" x1="756" y1="955.5" x2="824" y2="980"/>
<text class="lbl" font-size="13.4" letter-spacing="0.4" transform="translate(763.3,910.6) rotate(17)" x="0" y="0">SUEVIA</text>
<polygon class="tr" points="100.8,685.3 146.5,655.2 214.2,688.8 173.7,729.3"/>
<polygon class="tr" points="105.6,685.7 146.9,659.6 209.2,688.8 172.6,725.4"/>
<polyline class="tr" points="100.8,685.3 100.8,689.8 173.7,733.8 214.2,693.2 214.2,688.8"/>
<line class="tr" x1="173.7" y1="729.3" x2="173.7" y2="733.8"/>
<ellipse cx="150.6" cy="688.5" rx="21.5" ry="14" transform="rotate(-8 150.6 688.5)" fill="none" stroke="#111" stroke-width="2"/>
<polygon class="cn" points="164.0,689.0 169.5,685.5 175.0,689.0 174.0,700.0 167.0,700.0 164.0,695.0"/>
<ellipse class="cn" cx="169.5" cy="688.5" rx="1.6" ry="1.3"/>
<rect x="176" y="688.3" width="9.3" height="9.6" rx="2" fill="#777" stroke="#111" stroke-width="1.3"/>
<rect x="178" y="690" width="4.5" height="5" fill="#bbb"/>
<polygon class="tr" points="242.0,689.1 287.7,659.0 355.4,692.6 314.9,733.1"/>
<polygon class="tr" points="246.8,689.5 288.1,663.4 350.4,692.6 313.8,729.2"/>
<polyline class="tr" points="242.0,689.1 242.0,693.6 314.9,737.6 355.4,697.0 355.4,692.6"/>
<line class="tr" x1="314.9" y1="733.0999999999999" x2="314.9" y2="737.5999999999999"/>
<ellipse cx="291.79999999999995" cy="692.3" rx="21.5" ry="14" transform="rotate(-8 291.79999999999995 692.3)" fill="none" stroke="#111" stroke-width="2"/>
<polygon class="cn" points="305.2,692.8 310.7,689.3 316.2,692.8 315.2,703.8 308.2,703.8 305.2,698.8"/>
<ellipse class="cn" cx="310.7" cy="692.3" rx="1.6" ry="1.3"/>
<rect x="317.2" y="692.0999999999999" width="9.3" height="9.6" rx="2" fill="#777" stroke="#111" stroke-width="1.3"/>
<rect x="319.2" y="693.8" width="4.5" height="5" fill="#bbb"/>
<path d="M265.8,788.6 C252,776 226,774 212,780 C200,786 200,799 212,805 C226,811 252,808 265.8,791.6" fill="none" stroke="#111" stroke-width="3.6"/>
<polygon class="cn2" points="267.5,782.5 274.6,781.2 278.3,794.6 271.7,796.2"/>
<polygon class="cn" points="270.0,785.0 273.5,784.3 275.5,792.0 272.0,792.8"/>
<line class="t" x1="271" y1="794.5" x2="275.5" y2="793.5"/>
</svg></body></html>
